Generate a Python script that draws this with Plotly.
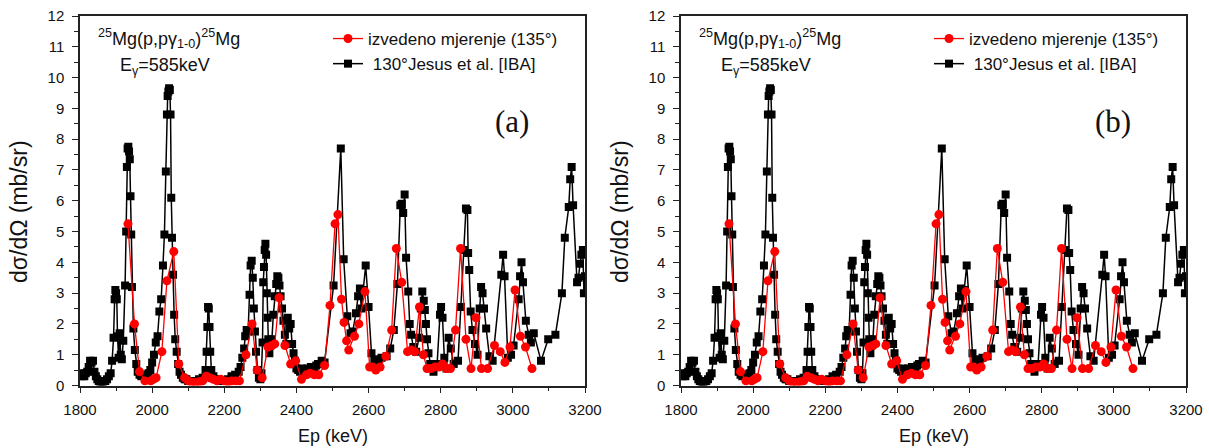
import plotly.graph_objects as go

W, H = 1209, 448

# ---- data: 130° Jesus et al. [IBA] (black squares) ----
jesus_ep = [1800, 1804, 1808, 1812, 1816, 1820, 1824, 1828, 1832, 1836, 1840, 1844, 1848, 1852, 1856,
            1860, 1865, 1870, 1875, 1880, 1885, 1889, 1893, 1896, 1898, 1900, 1902, 1904, 1907, 1910,
            1913, 1916, 1920, 1925, 1928, 1930, 1932, 1934, 1936, 1938, 1940, 1942, 1944, 1948, 1952,
            1956, 1960, 1965, 1970, 1975, 1980, 1985, 1990, 1995, 2000, 2005, 2010, 2015, 2020, 2025,
            2030, 2034, 2038, 2041, 2043, 2045, 2047, 2049, 2051, 2053, 2055, 2058, 2061, 2064, 2068,
            2072, 2076, 2080, 2085, 2090, 2095, 2100, 2110, 2120, 2130, 2140, 2148, 2151, 2153, 2155,
            2157, 2159, 2161, 2164, 2170, 2180, 2190, 2200, 2210, 2220, 2230, 2240, 2245, 2250, 2255,
            2258, 2262, 2266, 2270, 2273, 2276, 2279, 2282, 2285, 2288, 2292, 2296, 2300, 2303, 2306,
            2308, 2310, 2312, 2314, 2316, 2318, 2320, 2322, 2325, 2328, 2332, 2336, 2340, 2344, 2347,
            2350, 2353, 2356, 2360, 2364, 2368, 2372, 2376, 2380, 2384, 2388, 2392, 2396, 2400, 2405,
            2410, 2415, 2420, 2425, 2430, 2435, 2440, 2445, 2450, 2455, 2460, 2470, 2478, 2503, 2523,
            2531, 2541, 2550, 2556, 2565, 2571, 2576, 2580, 2586, 2592, 2600, 2608, 2616, 2626, 2636,
            2650, 2660, 2670, 2680, 2688, 2692, 2696, 2700, 2704, 2710, 2714, 2718, 2724, 2732, 2740,
            2745, 2749, 2753, 2756, 2759, 2762, 2766, 2771, 2780, 2790, 2798, 2801, 2805, 2810, 2816,
            2822, 2828, 2836, 2848, 2856, 2864, 2870, 2874, 2876, 2879, 2883, 2888, 2895, 2902, 2908,
            2912, 2916, 2920, 2926, 2935, 2944, 2968, 2973, 2977, 2986, 2995, 3002, 3016, 3020, 3024,
            3028, 3036, 3044, 3050, 3058, 3078, 3098, 3118, 3136, 3144, 3155, 3159, 3163, 3167, 3178,
            3182, 3186, 3190, 3194, 3197, 3200]
jesus_xs = [0.4, 0.3, 0.35, 0.3, 0.4, 0.45, 0.6, 0.8, 0.75, 0.8, 0.45, 0.3, 0.2, 0.15, 0.12,
            0.1, 0.12, 0.15, 0.2, 0.3, 0.4, 0.8, 1.55, 2.8, 3.1, 3.0, 2.8, 1.6, 0.9, 1.7,
            1.0, 0.85, 1.45, 3.25, 5.0, 7.1, 7.7, 7.75, 7.6, 7.35, 6.15, 4.9, 3.2, 1.85, 1.15,
            0.7, 0.45, 0.35, 0.3, 0.35, 0.3, 0.35, 0.4, 0.5, 0.75, 1.0, 1.4, 1.6, 2.4, 2.8,
            3.9, 4.9, 6.95, 8.8, 9.4, 9.55, 9.65, 9.6, 8.8, 6.1, 4.8, 3.6, 2.3, 1.5, 1.1,
            0.7, 0.45, 0.35, 0.25, 0.2, 0.2, 0.15, 0.15, 0.15, 0.2, 0.25, 0.5, 1.1, 1.9, 2.55,
            2.5, 1.9, 1.1, 0.5, 0.3, 0.2, 0.15, 0.15, 0.2, 0.3, 0.35, 0.45, 0.6, 0.9, 1.2,
            1.6, 1.8, 1.75, 2.95, 3.9, 4.05, 3.5, 2.5, 1.75, 1.1, 0.5, 0.25, 0.2, 0.4, 1.4,
            3.35, 3.85, 4.4, 4.6, 4.25, 3.0, 2.2, 1.5, 1.05, 1.3, 1.5, 2.3, 2.9, 3.3, 3.55,
            3.5, 3.25, 2.9, 2.5, 2.1, 1.65, 1.35, 2.2, 1.85, 2.0, 1.35, 1.05, 0.8, 0.55, 0.5,
            0.45, 0.55, 0.5, 0.5, 0.55, 0.5, 0.6, 0.55, 0.6, 0.65, 0.7, 0.8, 0.75, 3.25, 7.7,
            4.1, 2.25, 1.7, 1.75, 2.35, 2.9, 3.15, 2.5, 3.1, 3.9, 2.55, 1.05, 0.8, 0.85, 0.9,
            0.95, 1.2, 1.8, 3.3, 5.85, 5.9, 5.6, 6.2, 4.15, 3.05, 2.0, 1.65, 1.25, 1.1, 1.55,
            2.5, 3.05, 2.75, 2.45, 2.0, 1.5, 1.05, 0.7, 0.45, 0.7, 2.3, 2.55, 2.2, 0.9, 0.55,
            1.55, 1.2, 0.7, 0.8, 2.55, 4.4, 5.75, 5.7, 4.3, 3.75, 2.4, 1.8, 1.35, 1.0, 2.5,
            3.2, 3.0, 2.5, 1.85, 0.95, 0.8, 3.6, 4.25, 3.55, 0.9, 1.0, 1.3, 2.8, 3.55, 4.0,
            3.35, 2.1, 1.65, 1.4, 1.7, 0.8, 1.5, 1.65, 3.0, 4.8, 5.8, 6.7, 7.1, 5.85, 3.35,
            3.5, 3.95, 4.25, 4.4, 3.0, 3.55]

# ---- data: izvedeno mjerenje (135°) (red circles) ----
izv_ep = [1933, 1951, 1965, 1980, 1996, 2003, 2011, 2027, 2041, 2060, 2074, 2090, 2100, 2110, 2120,
          2130, 2140, 2150, 2160, 2170, 2180, 2190, 2200, 2210, 2220, 2232, 2242, 2260, 2277, 2291,
          2305, 2321, 2332, 2340, 2352, 2368, 2384, 2398, 2414, 2428, 2438, 2450, 2462, 2478, 2493,
          2507, 2515, 2525, 2532, 2539, 2545, 2561, 2573, 2590, 2603, 2611, 2620, 2632, 2648, 2664,
          2677, 2692, 2708, 2718, 2728, 2741, 2752, 2762, 2773, 2784, 2795, 2805, 2816, 2827, 2841,
          2855, 2870, 2884, 2898, 2913, 2930, 2949, 2965, 2978, 2992, 3006, 3021, 3035, 3053]
izv_xs = [5.25, 2.0, 0.45, 0.15, 0.15, 0.2, 0.25, 1.1, 3.4, 4.35, 0.7, 0.25, 0.15, 0.1, 0.1,
          0.12, 0.15, 0.3, 0.25, 0.2, 0.15, 0.2, 0.15, 0.12, 0.15, 0.15, 0.15, 1.0, 2.0, 0.5,
          0.25, 1.25, 1.3, 1.35, 2.85, 1.3, 0.7, 0.8, 0.2, 0.35, 0.4, 0.35, 0.35, 0.65, 2.6,
          5.25, 5.55, 2.8, 2.05, 1.45, 1.15, 1.6, 2.0, 3.05, 0.6, 0.6, 0.5, 0.6, 0.95, 1.8,
          4.45, 3.35, 1.1, 1.15, 1.1, 2.55, 1.0, 0.55, 0.55, 0.6, 0.6, 0.7, 0.55, 0.55, 1.8,
          4.45, 1.5, 0.55, 2.2, 0.55, 0.55, 1.3, 1.1, 0.75, 1.25, 3.1, 1.6, 1.25, 0.55]

x_ticks = [1800, 2000, 2200, 2400, 2600, 2800, 3000, 3200]
y_ticks = list(range(0, 13))
panel_labels = ["(a)", "(b)"]
name_izv = "izvedeno mjerenje (135°)"
name_jesus = " 130°Jesus et al. [IBA]"
reaction_text = "<sup>25</sup>Mg(p,pγ<sub>1-0</sub>)<sup>25</sup>Mg"
energy_text = "E<sub>γ</sub>=585keV"


def px(x):
    return x / W


def py(y):
    return 1 - y / H


FONT = "Liberation Sans, Arial, sans-serif"
AXC = "#222222"

panels = [
    dict(left=80, right=585, sfx="", top_sfx="3", legend="legend", label=panel_labels[0]),
    dict(left=681, right=1186, sfx="2", top_sfx="4", legend="legend2", label=panel_labels[1]),
]

fig = go.Figure()
layout = dict(
    width=W, height=H,
    margin=dict(l=0, r=0, t=0, b=0, pad=0, autoexpand=False),
    paper_bgcolor="white", plot_bgcolor="white",
    font=dict(family=FONT, color="#111111"),
    showlegend=True,
    annotations=[],
)

for p in panels:
    s = p["sfx"]
    xname = "x" + s
    yname = "y" + s
    fig.add_trace(go.Scatter(
        x=jesus_ep, y=jesus_xs, mode="lines+markers", name=name_jesus,
        line=dict(color="black", width=1.5),
        marker=dict(symbol="square", size=8, color="black"),
        xaxis=xname, yaxis=yname, legend=p["legend"],
    ))
    fig.add_trace(go.Scatter(
        x=izv_ep, y=izv_xs, mode="lines+markers", name=name_izv,
        line=dict(color="#ff0000", width=1.3),
        marker=dict(symbol="circle", size=9, color="#ff0000"),
        xaxis=xname, yaxis=yname, legend=p["legend"],
    ))

    dom_x = [px(p["left"]), px(p["right"])]
    dom_y = [py(385.5), py(16)]
    xa = "xaxis" + s
    ya = "yaxis" + s
    layout[xa] = dict(
        domain=dom_x, range=[1800, 3200], anchor=yname, automargin=False,
        tickmode="array", tickvals=x_ticks, ticks="outside", ticklen=6, tickwidth=1.3,
        tickcolor=AXC, showline=True, linecolor=AXC, linewidth=1.5, mirror=True,
        showgrid=False, zeroline=False, ticklabelstandoff=4,
        tickfont=dict(size=15, family=FONT, color="#111"),
        minor=dict(dtick=100, tick0=1800, ticks="outside", ticklen=4, tickcolor=AXC, showgrid=False),
    )
    layout[ya] = dict(
        domain=dom_y, range=[0, 12], anchor=xname, automargin=False,
        tickmode="array", tickvals=y_ticks, ticks="outside", ticklen=6, tickwidth=1.3,
        tickcolor=AXC, showline=True, linecolor=AXC, linewidth=1.5, mirror=True,
        showgrid=False, zeroline=False, ticklabelstandoff=5,
        tickfont=dict(size=15, family=FONT, color="#111"),
        minor=dict(dtick=0.5, tick0=0, ticks="outside", ticklen=4, tickcolor=AXC, showgrid=False),
    )
    t = p["top_sfx"]
    layout["xaxis" + t] = dict(
        overlaying=xname, side="top", anchor=yname, range=[1800, 3200], automargin=False,
        dtick=100, tick0=1800, ticks="inside", ticklen=5, tickwidth=1.3, tickcolor=AXC,
        showticklabels=False, showgrid=False, zeroline=False, showline=False,
    )
    layout["yaxis" + t] = dict(
        overlaying=yname, side="right", anchor=xname, range=[0, 12], automargin=False,
        dtick=0.5, tick0=0, ticks="inside", ticklen=5, tickwidth=1.3, tickcolor=AXC,
        showticklabels=False, showgrid=False, zeroline=False, showline=False,
    )

    off = p["left"] - 80
    layout[p["legend"]] = dict(
        x=px(328 + off), y=py(21), xanchor="left", yanchor="top",
        bgcolor="rgba(0,0,0,0)", font=dict(size=17, family=FONT, color="#111"),
        traceorder="reversed", itemwidth=30, tracegroupgap=0,
    )
    ann = layout["annotations"]
    ann.append(dict(text=reaction_text, x=px(96 + off), y=py(39), xref="paper", yref="paper",
                    xanchor="left", yanchor="middle", showarrow=False,
                    font=dict(size=18, family=FONT, color="#111")))
    ann.append(dict(text=energy_text, x=px(118 + off), y=py(67), xref="paper", yref="paper",
                    xanchor="left", yanchor="middle", showarrow=False,
                    font=dict(size=18, family=FONT, color="#111")))
    ann.append(dict(text=p["label"], x=px(512 + off), y=py(121), xref="paper", yref="paper",
                    xanchor="center", yanchor="middle", showarrow=False,
                    font=dict(size=31, family="Liberation Serif, Times New Roman, serif", color="#111")))
    ann.append(dict(text="Ep (keV)", x=px((p["left"] + p["right"]) / 2), y=py(436), xref="paper",
                    yref="paper", xanchor="center", yanchor="middle", showarrow=False,
                    font=dict(size=18, family=FONT, color="#111")))
    ann.append(dict(text="dσ/dΩ (mb/sr)", x=px(p["left"] - 61), y=py(212), xref="paper",
                    yref="paper", xanchor="center", yanchor="middle", showarrow=False, textangle=-90,
                    font=dict(size=23, family=FONT, color="#111")))

fig.update_layout(**layout)
fig.write_html("out.html", post_script="document.body.style.margin='0';",
               config={"displayModeBar": False})
